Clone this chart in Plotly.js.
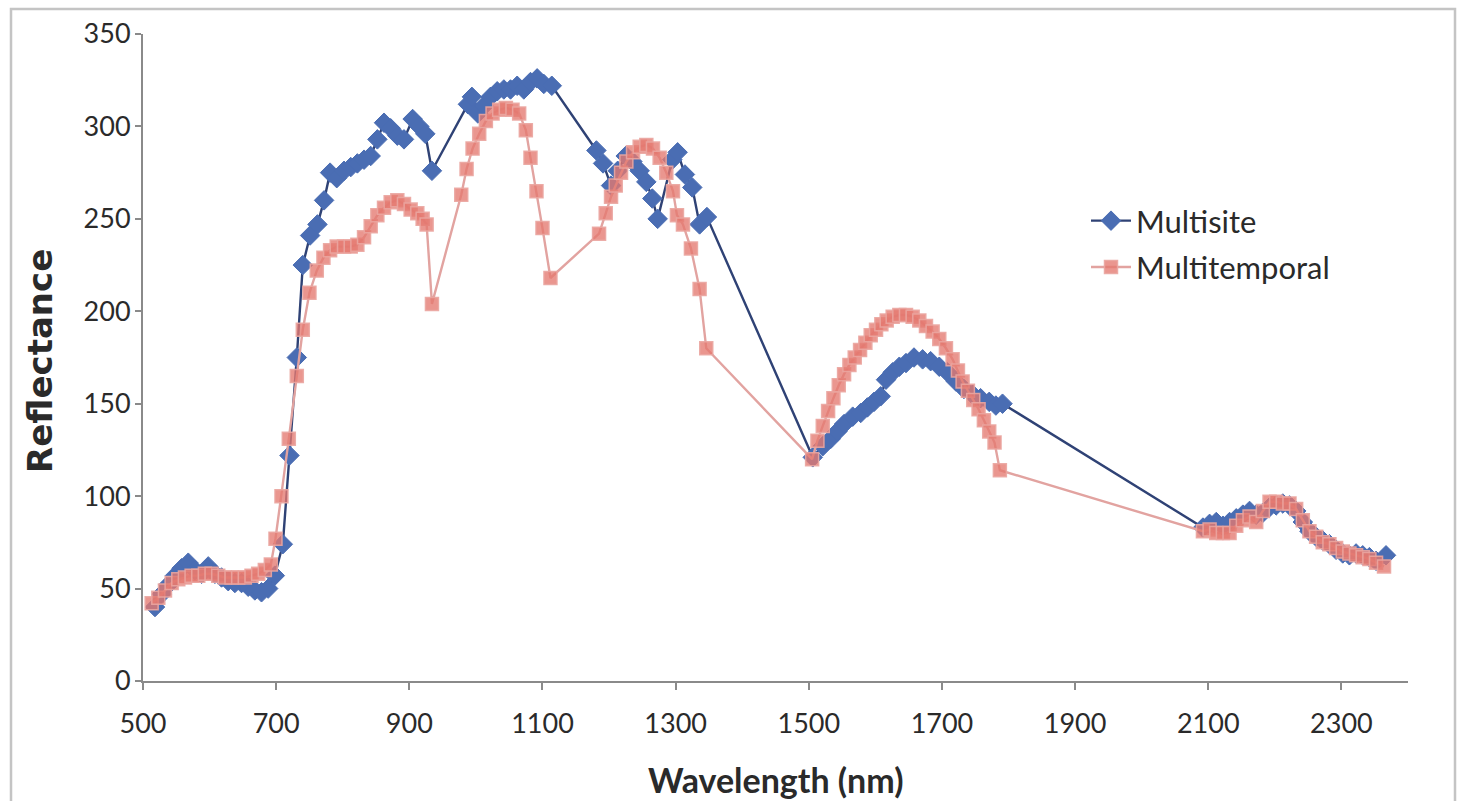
<!DOCTYPE html>
<html>
<head>
<meta charset="utf-8">
<script src="https://cdn.plot.ly/plotly-3.0.1.min.js"></script>
<style>html,body{margin:0;padding:0;background:#fff;}#chart{width:1460px;height:801px;}</style>
</head>
<body>
<div id="chart"></div>
<script>
// Multisite (blue diamonds)
const multisiteWavelength = [
  518, 528, 538, 548, 558, 568, 578, 588, 598, 608, 618, 628, 638, 648, 658, 668, 678, 688, 698, 710,
  720, 731, 740, 751, 762, 772, 781, 791, 802, 812, 822, 832, 842, 852, 862, 872, 882, 892, 905, 915, 924, 934,
  988, 994, 1003, 1012, 1022, 1032, 1042, 1052, 1062, 1072, 1082, 1092, 1102, 1114,
  1181, 1191, 1203, 1213, 1225, 1235, 1246, 1256, 1265, 1273, 1295, 1303, 1314, 1325, 1336, 1347,
  1506, 1521, 1533, 1543, 1553, 1566, 1578, 1588, 1598, 1608, 1616, 1626, 1636, 1646, 1658, 1671, 1683, 1696, 1708, 1721, 1733, 1746, 1758, 1771, 1781, 1791,
  2092, 2102, 2112, 2122, 2132, 2142, 2152, 2162, 2172, 2182, 2192, 2202, 2212, 2222, 2232, 2242, 2252, 2262, 2272, 2282, 2292, 2302, 2312, 2322, 2332, 2342, 2352, 2367
];
const multisiteReflectance = [
  40, 47, 52, 57, 61, 64, 60, 58, 62, 58, 56, 54, 53, 53, 51, 49, 48, 50, 57, 74,
  122, 175, 225, 241, 247, 260, 275, 272, 276, 278, 280, 282, 284, 293, 302, 299, 295, 293, 304, 300, 296, 276,
  312, 316, 307, 311, 316, 319, 320, 320, 322, 320, 324, 326, 323, 322,
  287, 280, 268, 276, 284, 281, 276, 270, 261, 250, 282, 286, 274, 267, 247, 251,
  121, 127, 131, 135, 139, 143, 145, 148, 151, 154, 163, 167, 170, 172, 175, 174, 173, 170, 167, 162, 158, 155, 153, 151, 149, 150,
  83, 85, 86, 84, 86, 88, 90, 92, 90, 91, 94, 95, 96, 95, 92, 86, 81, 78, 76, 74, 71, 69, 68, 69, 68, 67, 65, 68
];

// Multitemporal (red squares)
const multitemporalWavelength = [
  513, 523, 533, 543, 553, 563, 573, 583, 593, 603, 613, 623, 633, 643, 653, 663, 673, 683, 692, 699, 708,
  719, 731, 740, 750, 761, 771, 781, 791, 802, 812, 822, 832, 842, 852, 862, 872, 882, 892, 902, 912, 920, 926, 934,
  978, 986, 995, 1005, 1015, 1025, 1035, 1045, 1055, 1065, 1075, 1082, 1091, 1100, 1112,
  1185, 1195, 1203, 1210, 1218, 1226, 1236, 1246, 1256, 1266, 1276, 1286, 1296, 1302, 1311, 1323, 1336, 1346,
  1505, 1513, 1521, 1529, 1537, 1545, 1553, 1561, 1569, 1577, 1585, 1593, 1601, 1609, 1617, 1626, 1636, 1646, 1656, 1666, 1676, 1686, 1696, 1706, 1716, 1724, 1731, 1739, 1747, 1755, 1763, 1771, 1779, 1787,
  2092, 2102, 2112, 2122, 2132, 2142, 2152, 2162, 2172, 2182, 2192, 2202, 2212, 2222, 2232, 2242, 2252, 2262, 2272, 2282, 2292, 2302, 2312, 2322, 2332, 2342, 2352, 2364
];
const multitemporalReflectance = [
  42, 45, 49, 53, 55, 56, 57, 57, 58, 58, 57, 56, 56, 56, 56, 57, 58, 60, 63, 77, 100,
  131, 165, 190, 210, 222, 229, 233, 235, 235, 235, 236, 240, 246, 252, 256, 259, 260, 258, 255, 253, 250, 247, 204,
  263, 277, 288, 296, 303, 307, 309, 310, 309, 307, 298, 283, 265, 245, 218,
  242, 253, 262, 268, 275, 281, 286, 289, 290, 288, 283, 275, 265, 252, 247, 234, 212, 180,
  120, 130, 138, 146, 153, 160, 166, 171, 175, 179, 183, 187, 190, 193, 195, 197, 198, 198, 197, 195, 192, 189, 185, 180, 174, 168, 162, 157, 152, 147, 141, 135, 129, 114,
  81, 82, 80, 80, 80, 84, 87, 89, 86, 92, 97, 97, 96, 96, 93, 87, 81, 78, 75, 74, 72, 70, 69, 68, 67, 66, 64, 62
];

const xTicks = [500, 700, 900, 1100, 1300, 1500, 1700, 1900, 2100, 2300];
const yTicks = [0, 50, 100, 150, 200, 250, 300, 350];

const tickFont = {family: 'Lato, "Open Sans", sans-serif', size: 27, color: '#2a2a2a'};

const traces = [
  {
    x: multisiteWavelength, y: multisiteReflectance, name: 'Multisite',
    type: 'scatter', mode: 'lines+markers', legendgroup: 'a',
    line: {color: '#2f4275', width: 2.4},
    marker: {symbol: 'diamond', size: 15, color: '#4a6db3', line: {color: '#4a6db3', width: 1}}
  },
  {
    x: multitemporalWavelength, y: multitemporalReflectance, name: 'Multitemporal',
    type: 'scatter', mode: 'lines+markers', legendgroup: 'b',
    line: {color: '#e2a3a0', width: 2.4},
    marker: {symbol: 'square', size: 13, color: 'rgba(228,120,112,0.78)', line: {color: 'rgba(234,165,160,0.9)', width: 1.5}}
  }
];

const L = 143, R = 1408, T = 34, B = 681;
const W = R - L, H = B - T;
const px = v => (v - L) / W;
const py = v => (B - v) / H;

const layout = {
  width: 1460, height: 801,
  margin: {l: L, r: 1460 - R, t: T, b: 801 - B},
  paper_bgcolor: '#fff', plot_bgcolor: '#fff',
  showlegend: true,
  legend: {
    x: px(1086), y: py(194), xanchor: 'left', yanchor: 'top',
    font: {family: 'Lato, "Open Sans", sans-serif', size: 31, color: '#2a2a2a'},
    traceorder: 'grouped', tracegroupgap: 3,
    bgcolor: 'rgba(0,0,0,0)', itemwidth: 40
  },
  xaxis: {
    range: [500, 2400], tickmode: 'array', tickvals: xTicks, ticktext: xTicks.map(String),
    showgrid: false, zeroline: false, showline: true, linecolor: '#8a8a8a', linewidth: 2,
    ticks: 'outside', ticklen: 7, tickwidth: 2, tickcolor: '#8a8a8a',
    tickfont: tickFont, ticklabelstandoff: 11
  },
  yaxis: {
    range: [0, 350], tickmode: 'array', tickvals: yTicks, ticktext: yTicks.map(String),
    showgrid: false, zeroline: false, showline: true, linecolor: '#8a8a8a', linewidth: 2,
    ticks: 'outside', ticklen: 6, tickwidth: 2, tickcolor: '#8a8a8a',
    tickfont: tickFont, ticklabelstandoff: -1
  },
  annotations: [
    {text: '<b>Wavelength (nm)</b>', xref: 'paper', yref: 'paper', x: px(775), y: py(779),
     xanchor: 'center', yanchor: 'middle', showarrow: false,
     font: {family: 'Lato, "Open Sans", sans-serif', size: 34, color: '#2a2a2a'}},
    {text: '<b>Reflectance</b>', xref: 'paper', yref: 'paper', x: px(40), y: py(361),
     xanchor: 'center', yanchor: 'middle', showarrow: false, textangle: -90,
     font: {family: '"DejaVu Sans", Verdana, sans-serif', size: 34, color: '#2a2a2a'}}
  ],
  shapes: [
    {type: 'rect', xref: 'paper', yref: 'paper', x0: px(11), x1: px(1455), y0: py(806), y1: py(9),
     line: {color: '#c4c4c4', width: 2.5}, fillcolor: 'rgba(0,0,0,0)', layer: 'below'}
  ]
};

Plotly.newPlot('chart', traces, layout, {displayModeBar: false, staticPlot: true});
</script>
</body>
</html>
